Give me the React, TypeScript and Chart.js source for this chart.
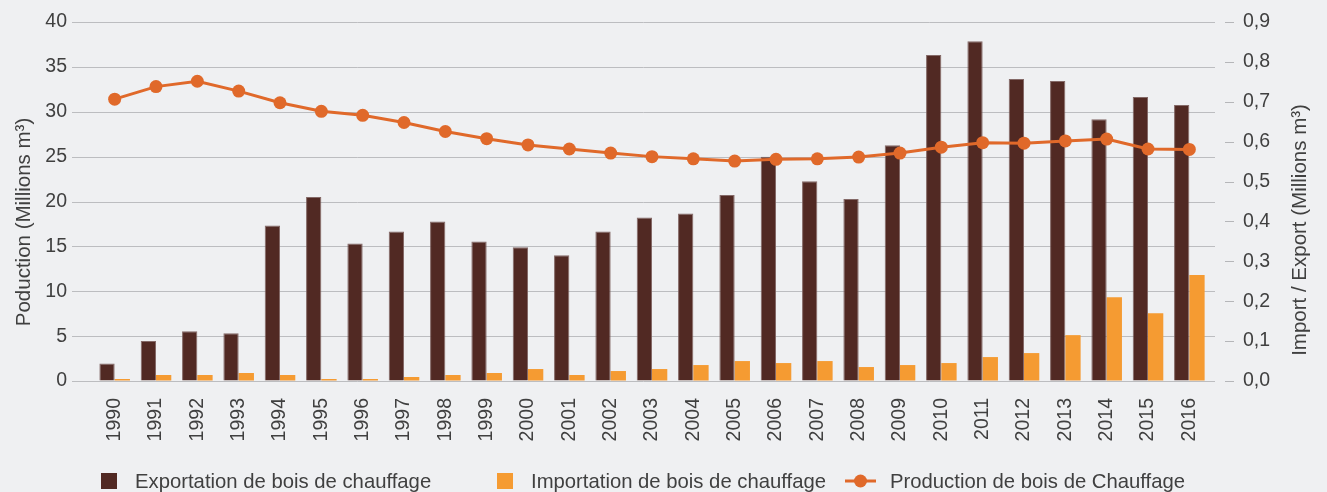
import React, { useEffect, useRef } from 'react';
import { Chart, registerables } from 'chart.js';

Chart.register(...registerables);

// ---- Data ----
const years = [
  '1990', '1991', '1992', '1993', '1994', '1995', '1996', '1997', '1998', '1999',
  '2000', '2001', '2002', '2003', '2004', '2005', '2006', '2007', '2008', '2009',
  '2010', '2011', '2012', '2013', '2014', '2015', '2016',
];

// Import / Export (Millions m³) — right axis
const exportValues = [
  0.044, 0.100, 0.125, 0.120, 0.390, 0.461, 0.345, 0.375, 0.400, 0.350,
  0.335, 0.315, 0.375, 0.410, 0.420, 0.466, 0.562, 0.501, 0.456, 0.591,
  0.817, 0.852, 0.757, 0.752, 0.656, 0.712, 0.692,
];
const importValues = [
  0.005, 0.015, 0.015, 0.020, 0.015, 0.005, 0.005, 0.010, 0.015, 0.020,
  0.030, 0.015, 0.025, 0.030, 0.040, 0.050, 0.045, 0.050, 0.035, 0.040,
  0.045, 0.060, 0.070, 0.115, 0.210, 0.170, 0.266,
];
// Production (Millions m³) — left axis
const productionValues = [
  31.4, 32.8, 33.4, 32.3, 31.0, 30.05, 29.6, 28.8, 27.8, 27.0,
  26.3, 25.85, 25.4, 25.0, 24.75, 24.5, 24.7, 24.75, 24.95, 25.4,
  26.05, 26.55, 26.5, 26.75, 26.95, 25.85, 25.8,
];

const seriesLabels = [
  'Exportation de bois de chauffage',
  'Importation de bois de chauffage',
  'Production de bois de Chauffage',
];
const leftTitle = 'Poduction (Millions m³)';
const rightTitle = 'Import / Export (Millions m³)';

// ---- Styles ----
const BG = '#eff0f2';
const GRID = '#bcbdc0';
const TEXT = '#404040';
const EXPORT_COLOR = '#512923';
const IMPORT_COLOR = '#f59b32';
const LINE_COLOR = '#e0692a';
const FONT = '"Liberation Sans", Arial, Helvetica, sans-serif';

const bgPlugin = {
  id: 'bgFill',
  beforeDraw(chart: any) {
    const { ctx, width, height } = chart;
    ctx.save();
    ctx.fillStyle = BG;
    ctx.fillRect(0, 0, width, height);
    ctx.restore();
  },
};

const gridPlugin = {
  id: 'extGrid',
  beforeDatasetsDraw(chart: any) {
    const { ctx, chartArea, scales } = chart;
    ctx.save();
    ctx.strokeStyle = GRID;
    ctx.lineWidth = 1;
    const y = scales.y;
    y.ticks.forEach((t: any) => {
      const py = Math.round(y.getPixelForValue(t.value)) + 0.5;
      ctx.beginPath();
      ctx.moveTo(chartArea.left - 22, py);
      ctx.lineTo(chartArea.right + 5, py);
      ctx.stroke();
    });
    const y1 = scales.y1;
    ctx.strokeStyle = '#b5b6b9';
    y1.ticks.forEach((t: any) => {
      const py = Math.round(y1.getPixelForValue(t.value)) + 0.5;
      ctx.beginPath();
      ctx.moveTo(chartArea.right + 15, py);
      ctx.lineTo(chartArea.right + 24, py);
      ctx.stroke();
    });
    ctx.restore();
  },
};

const decorPlugin = {
  id: 'decor',
  afterDraw(chart: any) {
    const { ctx } = chart;
    ctx.save();
    // Axis titles
    ctx.fillStyle = TEXT;
    ctx.font = `20.5px ${FONT}`;
    ctx.textAlign = 'center';
    ctx.textBaseline = 'alphabetic';
    ctx.save();
    ctx.translate(29.5, 222);
    ctx.rotate(-Math.PI / 2);
    ctx.fillText(leftTitle, 0, 0);
    ctx.restore();
    ctx.save();
    ctx.translate(1306, 230);
    ctx.rotate(-Math.PI / 2);
    ctx.fillText(rightTitle, 0, 0);
    ctx.restore();

    // Legend
    const base = 487.5;
    ctx.font = `20.3px ${FONT}`;
    ctx.textAlign = 'left';
    ctx.fillStyle = EXPORT_COLOR;
    ctx.fillRect(101, 473, 16, 16);
    ctx.fillStyle = TEXT;
    ctx.fillText(seriesLabels[0], 135, base);

    ctx.fillStyle = IMPORT_COLOR;
    ctx.fillRect(497, 473, 16, 16);
    ctx.fillStyle = TEXT;
    ctx.fillText(seriesLabels[1], 531, base);

    ctx.strokeStyle = LINE_COLOR;
    ctx.lineWidth = 3;
    ctx.beginPath();
    ctx.moveTo(845, 481);
    ctx.lineTo(876, 481);
    ctx.stroke();
    ctx.fillStyle = LINE_COLOR;
    ctx.beginPath();
    ctx.arc(860.5, 481, 6.5, 0, Math.PI * 2);
    ctx.fill();
    ctx.fillStyle = TEXT;
    ctx.fillText(seriesLabels[2], 890, base);
    ctx.restore();
  },
};

export default function App() {
  const canvasRef = useRef<HTMLCanvasElement | null>(null);

  useEffect(() => {
    document.body.style.margin = '0';
    document.body.style.background = BG;
    const canvas = canvasRef.current;
    if (!canvas) return;

    const chart = new Chart(canvas, {
      type: 'bar',
      data: {
        labels: years,
        datasets: [
          {
            type: 'bar',
            label: seriesLabels[0],
            data: exportValues,
            yAxisID: 'y1',
            backgroundColor: EXPORT_COLOR,
            borderColor: 'rgba(120, 90, 88, 0.9)',
            borderWidth: { top: 1, left: 1, right: 1, bottom: 0 },
            barPercentage: 1,
            categoryPercentage: 0.74,
            order: 1,
          },
          {
            type: 'bar',
            label: seriesLabels[1],
            data: importValues,
            yAxisID: 'y1',
            backgroundColor: IMPORT_COLOR,
            borderWidth: 0,
            barPercentage: 1,
            categoryPercentage: 0.74,
            order: 1,
          },
          {
            type: 'line',
            label: seriesLabels[2],
            data: productionValues,
            yAxisID: 'y',
            borderColor: LINE_COLOR,
            backgroundColor: LINE_COLOR,
            borderWidth: 3,
            pointRadius: 6.5,
            pointBorderWidth: 0,
            pointBackgroundColor: LINE_COLOR,
            tension: 0,
            order: 0,
          },
        ],
      } as any,
      options: {
        animation: false,
        responsive: true,
        maintainAspectRatio: false,
        layout: { padding: { top: 22, bottom: 47, left: 0, right: 0 } },
        plugins: {
          legend: { display: false },
          tooltip: { enabled: false },
        },
        scales: {
          x: {
            type: 'category',
            offset: true,
            grid: { display: false, drawTicks: false },
            border: { display: false },
            ticks: {
              autoSkip: false,
              maxRotation: 90,
              minRotation: 90,
              padding: 17,
              color: TEXT,
              font: { family: FONT, size: 19.5 },
            },
            afterFit(scale: any) {
              scale.height = 64;
            },
          },
          y: {
            type: 'linear',
            position: 'left',
            min: 0,
            max: 40,
            grid: {
              display: true,
              drawOnChartArea: false,
              drawTicks: true,
              tickLength: 27,
              color: 'rgba(0,0,0,0)',
            },
            border: { display: false },
            ticks: {
              stepSize: 5,
              padding: 0,
              color: TEXT,
              font: { family: FONT, size: 19.5 },
            },
            afterFit(scale: any) {
              scale.width = 94;
            },
          },
          y1: {
            type: 'linear',
            position: 'right',
            min: 0,
            max: 0.9,
            grid: {
              display: true,
              drawOnChartArea: false,
              drawTicks: true,
              tickLength: 33,
              color: 'rgba(0,0,0,0)',
            },
            border: { display: false },
            ticks: {
              stepSize: 0.1,
              padding: 0,
              color: TEXT,
              font: { family: FONT, size: 19.5 },
              callback: (v: any) => Number(v).toFixed(1).replace('.', ','),
            },
            afterFit(scale: any) {
              scale.width = 117;
            },
          },
        },
      } as any,
      plugins: [bgPlugin, gridPlugin, decorPlugin],
    });

    return () => {
      chart.destroy();
    };
  }, []);

  return (
    <div style={{ position: 'relative', width: 1327, height: 492 }}>
      <canvas ref={canvasRef} />
    </div>
  );
}
